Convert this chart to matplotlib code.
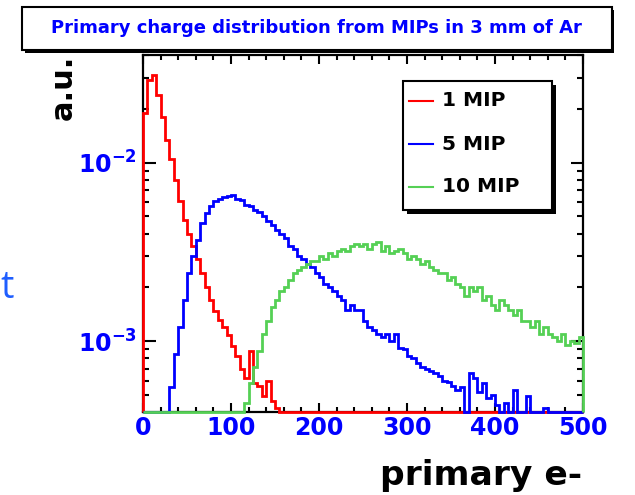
import numpy as np
import matplotlib
matplotlib.use("Agg")
import matplotlib.pyplot as plt
from matplotlib.patches import Rectangle
from matplotlib.lines import Line2D
from matplotlib.ticker import MultipleLocator, LogLocator, NullFormatter

plt.rcParams["font.family"] = ["DejaVu Sans"]
plt.rcParams["mathtext.default"] = "bf"

# histogram binning: 5 primary electrons per bin, 0..500
bin_edges = np.arange(0, 505, 5)

mip1 = [0.019, 0.029, 0.031, 0.024, 0.018, 0.0135, 0.0105, 0.0080, 0.0061, 0.0048,
        0.0040, 0.0034, 0.0029, 0.0024, 0.0020, 0.0017, 0.00148, 0.00132, 0.0012, 0.00108,
        0.00094, 0.00082, 0.0007, 0.00062, 0.00088, 0.00058, 0.00056, 0.00049, 0.00060, 0.00046,
        0.00042] + [0.0] * 69

mip5 = [0.0, 0.0, 0.0, 0.0, 0.0, 0.0, 0.00055, 0.00085, 0.0012, 0.0017,
        0.0024, 0.0030, 0.0037, 0.0046, 0.0052, 0.0057, 0.0061, 0.0063, 0.0064, 0.0065,
        0.0066, 0.0063, 0.0062, 0.0058, 0.0057, 0.0054, 0.0053, 0.0050, 0.0047, 0.0045,
        0.0042, 0.0040, 0.0038, 0.0034, 0.0033, 0.0030, 0.0029, 0.0027, 0.0026, 0.0024,
        0.0023, 0.0021, 0.0020, 0.0019, 0.0018, 0.0017, 0.0015, 0.0016, 0.0015, 0.0015,
        0.0013, 0.0012, 0.00115, 0.0011, 0.00105, 0.0011, 0.0010, 0.0011, 0.00092, 0.0009,
        0.00083, 0.0008, 0.00075, 0.00072, 0.0007, 0.00068, 0.00066, 0.00064, 0.0006, 0.00059,
        0.00056, 0.00053, 0.00055, 0.0004, 0.00066, 0.00062, 0.00052, 0.00058, 0.00048, 0.0005,
        0.00044, 0.0, 0.00045, 0.0, 0.00053, 0.0, 0.0, 0.00049, 0.0, 0.0,
        0.0, 0.00042, 0.0, 0.0, 0.0, 0.0, 0.0, 0.0, 0.0, 0.0]

mip10 = [0.0] * 23 + [
        0.00045, 0.00058, 0.00072, 0.00088, 0.0011, 0.0013, 0.00155, 0.0017,
        0.0019, 0.0020, 0.0022, 0.0024, 0.0025, 0.0026, 0.0027, 0.0028, 0.0028, 0.0030,
        0.0029, 0.0031, 0.0030, 0.0032, 0.0033, 0.0032, 0.0034, 0.0035, 0.0034, 0.0035,
        0.0033, 0.0035, 0.0036, 0.0032, 0.0034, 0.0031, 0.0032, 0.0033, 0.0031, 0.0029,
        0.0030, 0.0029, 0.0027, 0.0028, 0.0026, 0.0025, 0.0024, 0.0024, 0.0022, 0.0023,
        0.0021, 0.0020, 0.0018, 0.0020, 0.0019, 0.0020, 0.0017, 0.0018, 0.0016, 0.0015,
        0.0017, 0.0016, 0.0015, 0.0014, 0.0015, 0.0013, 0.0013, 0.0012, 0.0013, 0.0011,
        0.0012, 0.0011, 0.00105, 0.0010, 0.0011, 0.00095, 0.0010, 0.00098, 0.00105]

labels = ["1 MIP", "5 MIP", "10 MIP"]
colors = ["#ff0000", "#0000ff", "#55d055"]

YMIN, YMAX = 4.03e-4, 0.0402

fig = plt.figure(figsize=(6.35, 4.95), dpi=100)
ax = fig.add_axes([143 / 635, 1 - 411.5 / 495, 440 / 635, 356.5 / 495])

# empty bins sit on the lower edge, like ROOT does on a log axis
for vals, col in zip([mip1, mip5, mip10], colors):
    y = np.clip(np.array(vals), YMIN, None)
    ax.stairs(y, bin_edges, baseline=YMIN, color=col, lw=2.0, zorder=3, clip_on=False)

ax.set_yscale("log")
ax.set_xlim(0, 500)
ax.set_ylim(YMIN, YMAX)

ax.set_xticks([0, 100, 200, 300, 400, 500])
ax.xaxis.set_minor_locator(MultipleLocator(20))
ax.set_yticks([1e-3, 1e-2], labels=[r"$10^{-3}$", r"$10^{-2}$"])
ax.yaxis.set_minor_locator(LogLocator(base=10, subs=np.arange(2, 10)))
ax.yaxis.set_minor_formatter(NullFormatter())

for s in ax.spines.values():
    s.set_linewidth(1.6)
ax.tick_params(axis="both", which="both", direction="in", top=True, right=True,
               width=1.5, colors="black", labelcolor="#0000ff")
ax.tick_params(axis="x", which="major", length=6.5, pad=3, labelsize=17)
ax.tick_params(axis="x", which="minor", length=3.5)
ax.tick_params(axis="y", which="major", length=9, pad=4, labelsize=17)
ax.tick_params(axis="y", which="minor", length=4.5)
for lab in ax.get_xticklabels() + ax.get_yticklabels():
    lab.set_fontweight("bold")

# legend box with ROOT-style black shadow
ax.add_patch(Rectangle((0.600, 0.553), 0.3385, 0.362, transform=ax.transAxes,
                       facecolor="black", edgecolor="none", clip_on=False, zorder=4))
ax.add_patch(Rectangle((0.591, 0.565), 0.3385, 0.362, transform=ax.transAxes,
                       facecolor="white", edgecolor="black", lw=1.5, clip_on=False, zorder=5))
for lab, col, yy in zip(labels, colors, [0.871, 0.750, 0.630]):
    ax.add_line(Line2D([0.6045, 0.659], [yy, yy], transform=ax.transAxes,
                       color=col, lw=1.5, zorder=6))
    ax.text(0.6795, yy, lab, transform=ax.transAxes, fontsize=14.5, fontweight="bold",
            va="center", ha="left", zorder=6)

# title box
fig.patches.append(Rectangle((0.0346 + 0.004, 0.899 - 0.006), 0.929, 0.0869,
                             transform=fig.transFigure, facecolor="black",
                             edgecolor="none", zorder=0))
fig.patches.append(Rectangle((0.0346, 0.899), 0.929, 0.0869, transform=fig.transFigure,
                             facecolor="white", edgecolor="black", lw=1.5, zorder=1))
fig.text(0.499, 0.943, "Primary charge distribution from MIPs in 3 mm of Ar",
         color="#0000ff", fontsize=13, fontweight="bold", ha="center", va="center")

fig.text(63 / 635, 1 - 55 / 495, "a.u.", rotation=90, fontsize=22, fontweight="bold",
         ha="center", va="top")
fig.text(582 / 635, 1 - 485 / 495, "primary e-", fontsize=24.8, fontweight="bold",
         ha="right", va="baseline")
fig.text(0.0, 1 - 298 / 495, "t", fontsize=27, family="Open Sans", color="#1f5eff",
         ha="left", va="baseline")

fig.savefig("out.png", dpi=100)
